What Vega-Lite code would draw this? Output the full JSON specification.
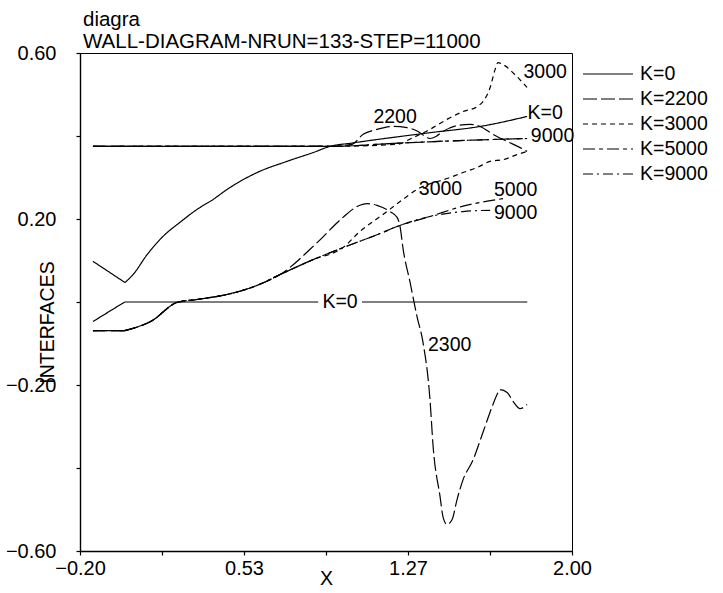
{
  "$schema": "https://vega.github.io/schema/vega-lite/v6.json",
  "width": 492,
  "height": 498,
  "autosize": {"type": "none"},
  "padding": {"left": 80, "top": 53, "right": 151, "bottom": 42},
  "background": "white",
  "config": {
    "view": {"stroke": "black", "strokeWidth": 1},
    "font": "Liberation Sans",
    "axis": {
      "domainColor": "black", "domainWidth": 1.4, "tickColor": "black", "tickSize": 4, "tickWidth": 1.2,
      "labelColor": "black", "labelFont": "Liberation Sans", "labelFontSize": 20,
      "titleColor": "black", "titleFont": "Liberation Sans", "titleFontSize": 19.5, "titleFontWeight": "normal",
      "grid": false
    }
  },
  "title": {
    "text": ["diagra", "WALL-DIAGRAM-NRUN=133-STEP=11000"],
    "anchor": "start", "frame": "group", "font": "Liberation Sans", "fontSize": 20.5,
    "fontWeight": "normal", "color": "black", "lineHeight": 22, "offset": -9, "dx": 3
  },
  "datasets": {
    "curves": [
      {"c": "k0_low_s", "K": "K=0", "i": 0, "x": -0.142, "y": -0.047},
      {"c": "k0_low_s", "K": "K=0", "i": 1, "x": 0.0, "y": 0.0},
      {"c": "k0_low_a", "K": "K=0", "i": 0, "x": 0.0, "y": 0.0},
      {"c": "k0_low_a", "K": "K=0", "i": 1, "x": 0.865, "y": 0.0},
      {"c": "k0_low_b", "K": "K=0", "i": 0, "x": 1.061, "y": 0.0},
      {"c": "k0_low_b", "K": "K=0", "i": 1, "x": 1.8, "y": 0.0},
      {"c": "k0_flat", "K": "K=0", "i": 0, "x": -0.142, "y": 0.375},
      {"c": "k0_flat", "K": "K=0", "i": 1, "x": 0.95, "y": 0.375},
      {"c": "k0_up_s", "K": "K=0", "i": 0, "x": -0.142, "y": 0.098},
      {"c": "k0_up_s", "K": "K=0", "i": 1, "x": 0.001, "y": 0.047},
      {"c": "k0_up", "K": "K=0", "i": 1, "x": 0.001, "y": 0.047},
      {"c": "k0_up", "K": "K=0", "i": 2, "x": 0.037, "y": 0.066},
      {"c": "k0_up", "K": "K=0", "i": 3, "x": 0.1, "y": 0.114},
      {"c": "k0_up", "K": "K=0", "i": 4, "x": 0.171, "y": 0.158},
      {"c": "k0_up", "K": "K=0", "i": 5, "x": 0.247, "y": 0.192},
      {"c": "k0_up", "K": "K=0", "i": 6, "x": 0.323, "y": 0.223},
      {"c": "k0_up", "K": "K=0", "i": 7, "x": 0.395, "y": 0.247},
      {"c": "k0_up", "K": "K=0", "i": 8, "x": 0.457, "y": 0.271},
      {"c": "k0_up", "K": "K=0", "i": 9, "x": 0.592, "y": 0.312},
      {"c": "k0_up", "K": "K=0", "i": 10, "x": 0.726, "y": 0.339},
      {"c": "k0_up", "K": "K=0", "i": 11, "x": 0.842, "y": 0.36},
      {"c": "k0_up", "K": "K=0", "i": 12, "x": 0.918, "y": 0.375},
      {"c": "k0_up", "K": "K=0", "i": 13, "x": 1.016, "y": 0.383},
      {"c": "k0_up", "K": "K=0", "i": 14, "x": 1.365, "y": 0.408},
      {"c": "k0_up", "K": "K=0", "i": 15, "x": 1.589, "y": 0.423},
      {"c": "k0_up", "K": "K=0", "i": 16, "x": 1.799, "y": 0.447},

      {"c": "k2200_up", "K": "K=2200", "i": 0, "x": -0.142, "y": 0.375},
      {"c": "k2200_up", "K": "K=2200", "i": 1, "x": 0.918, "y": 0.375},
      {"c": "k2200_up", "K": "K=2200", "i": 2, "x": 1.016, "y": 0.38},
      {"c": "k2200_up", "K": "K=2200", "i": 3, "x": 1.066, "y": 0.404},
      {"c": "k2200_up", "K": "K=2200", "i": 4, "x": 1.128, "y": 0.416},
      {"c": "k2200_up", "K": "K=2200", "i": 5, "x": 1.2, "y": 0.423},
      {"c": "k2200_up", "K": "K=2200", "i": 6, "x": 1.262, "y": 0.42},
      {"c": "k2200_up", "K": "K=2200", "i": 7, "x": 1.312, "y": 0.411},
      {"c": "k2200_up", "K": "K=2200", "i": 8, "x": 1.343, "y": 0.399},
      {"c": "k2200_up", "K": "K=2200", "i": 9, "x": 1.365, "y": 0.394},
      {"c": "k2200_up", "K": "K=2200", "i": 10, "x": 1.392, "y": 0.399},
      {"c": "k2200_up", "K": "K=2200", "i": 11, "x": 1.423, "y": 0.411},
      {"c": "k2200_up", "K": "K=2200", "i": 12, "x": 1.486, "y": 0.425},
      {"c": "k2200_up", "K": "K=2200", "i": 13, "x": 1.544, "y": 0.428},
      {"c": "k2200_up", "K": "K=2200", "i": 14, "x": 1.589, "y": 0.423},
      {"c": "k2200_up", "K": "K=2200", "i": 15, "x": 1.647, "y": 0.404},
      {"c": "k2200_up", "K": "K=2200", "i": 16, "x": 1.71, "y": 0.387},
      {"c": "k2200_up", "K": "K=2200", "i": 17, "x": 1.768, "y": 0.372},
      {"c": "k2200_up", "K": "K=2200", "i": 18, "x": 1.799, "y": 0.363},

      {"c": "k2200_low_s", "K": "K=2200", "i": 0, "x": -0.142, "y": -0.069},
      {"c": "k2200_low_s", "K": "K=2200", "i": 1, "x": 0.0, "y": -0.069},
      {"c": "k2200_low", "K": "K=2200", "i": 1, "x": 0.0, "y": -0.069},
      {"c": "k2200_low", "K": "K=2200", "i": 2, "x": 0.122, "y": -0.045},
      {"c": "k2200_low", "K": "K=2200", "i": 3, "x": 0.234, "y": -0.001},
      {"c": "k2200_low", "K": "K=2200", "i": 4, "x": 0.323, "y": 0.006},
      {"c": "k2200_low", "K": "K=2200", "i": 5, "x": 0.457, "y": 0.018},
      {"c": "k2200_low", "K": "K=2200", "i": 6, "x": 0.592, "y": 0.04},
      {"c": "k2200_low", "K": "K=2200", "i": 7, "x": 0.694, "y": 0.066},
      {"c": "k2200_low", "K": "K=2200", "i": 8, "x": 0.86, "y": 0.143},
      {"c": "k2200_low", "K": "K=2200", "i": 9, "x": 0.976, "y": 0.204},
      {"c": "k2200_low", "K": "K=2200", "i": 10, "x": 1.039, "y": 0.23},
      {"c": "k2200_low", "K": "K=2200", "i": 11, "x": 1.084, "y": 0.237},
      {"c": "k2200_low", "K": "K=2200", "i": 12, "x": 1.128, "y": 0.233},
      {"c": "k2200_low", "K": "K=2200", "i": 13, "x": 1.186, "y": 0.218},
      {"c": "k2200_low", "K": "K=2200", "i": 14, "x": 1.218, "y": 0.204},
      {"c": "k2200_low", "K": "K=2200", "i": 15, "x": 1.231, "y": 0.182},
      {"c": "k2200_low", "K": "K=2200", "i": 16, "x": 1.245, "y": 0.127},
      {"c": "k2200_low", "K": "K=2200", "i": 17, "x": 1.276, "y": 0.047},
      {"c": "k2200_low", "K": "K=2200", "i": 18, "x": 1.307, "y": -0.035},
      {"c": "k2200_low", "K": "K=2200", "i": 19, "x": 1.334, "y": -0.098},
      {"c": "k2200_low", "K": "K=2200", "i": 20, "x": 1.365, "y": -0.235},
      {"c": "k2200_low", "K": "K=2200", "i": 21, "x": 1.379, "y": -0.348},
      {"c": "k2200_low", "K": "K=2200", "i": 22, "x": 1.41, "y": -0.469},
      {"c": "k2200_low", "K": "K=2200", "i": 23, "x": 1.423, "y": -0.517},
      {"c": "k2200_low", "K": "K=2200", "i": 24, "x": 1.441, "y": -0.536},
      {"c": "k2200_low", "K": "K=2200", "i": 25, "x": 1.464, "y": -0.524},
      {"c": "k2200_low", "K": "K=2200", "i": 26, "x": 1.486, "y": -0.476},
      {"c": "k2200_low", "K": "K=2200", "i": 27, "x": 1.513, "y": -0.428},
      {"c": "k2200_low", "K": "K=2200", "i": 28, "x": 1.558, "y": -0.38},
      {"c": "k2200_low", "K": "K=2200", "i": 29, "x": 1.602, "y": -0.314},
      {"c": "k2200_low", "K": "K=2200", "i": 30, "x": 1.643, "y": -0.252},
      {"c": "k2200_low", "K": "K=2200", "i": 31, "x": 1.665, "y": -0.223},
      {"c": "k2200_low", "K": "K=2200", "i": 32, "x": 1.678, "y": -0.211},
      {"c": "k2200_low", "K": "K=2200", "i": 33, "x": 1.71, "y": -0.218},
      {"c": "k2200_low", "K": "K=2200", "i": 34, "x": 1.737, "y": -0.24},
      {"c": "k2200_low", "K": "K=2200", "i": 35, "x": 1.768, "y": -0.257},
      {"c": "k2200_low", "K": "K=2200", "i": 36, "x": 1.799, "y": -0.247},

      {"c": "k3000_up", "K": "K=3000", "i": 0, "x": -0.142, "y": 0.375},
      {"c": "k3000_up", "K": "K=3000", "i": 1, "x": 0.918, "y": 0.375},
      {"c": "k3000_up", "K": "K=3000", "i": 2, "x": 1.218, "y": 0.38},
      {"c": "k3000_up", "K": "K=3000", "i": 3, "x": 1.289, "y": 0.396},
      {"c": "k3000_up", "K": "K=3000", "i": 4, "x": 1.365, "y": 0.416},
      {"c": "k3000_up", "K": "K=3000", "i": 5, "x": 1.441, "y": 0.44},
      {"c": "k3000_up", "K": "K=3000", "i": 6, "x": 1.513, "y": 0.459},
      {"c": "k3000_up", "K": "K=3000", "i": 7, "x": 1.576, "y": 0.471},
      {"c": "k3000_up", "K": "K=3000", "i": 8, "x": 1.602, "y": 0.483},
      {"c": "k3000_up", "K": "K=3000", "i": 9, "x": 1.634, "y": 0.517},
      {"c": "k3000_up", "K": "K=3000", "i": 10, "x": 1.656, "y": 0.56},
      {"c": "k3000_up", "K": "K=3000", "i": 11, "x": 1.669, "y": 0.577},
      {"c": "k3000_up", "K": "K=3000", "i": 12, "x": 1.692, "y": 0.572},
      {"c": "k3000_up", "K": "K=3000", "i": 13, "x": 1.754, "y": 0.543},
      {"c": "k3000_up", "K": "K=3000", "i": 14, "x": 1.799, "y": 0.517},

      {"c": "k3000_low_s", "K": "K=3000", "i": 0, "x": -0.142, "y": -0.069},
      {"c": "k3000_low_s", "K": "K=3000", "i": 1, "x": 0.0, "y": -0.069},
      {"c": "k3000_low", "K": "K=3000", "i": 1, "x": 0.0, "y": -0.069},
      {"c": "k3000_low", "K": "K=3000", "i": 2, "x": 0.122, "y": -0.045},
      {"c": "k3000_low", "K": "K=3000", "i": 3, "x": 0.234, "y": -0.001},
      {"c": "k3000_low", "K": "K=3000", "i": 4, "x": 0.323, "y": 0.006},
      {"c": "k3000_low", "K": "K=3000", "i": 5, "x": 0.457, "y": 0.018},
      {"c": "k3000_low", "K": "K=3000", "i": 6, "x": 0.592, "y": 0.04},
      {"c": "k3000_low", "K": "K=3000", "i": 7, "x": 0.694, "y": 0.066},
      {"c": "k3000_low", "K": "K=3000", "i": 8, "x": 0.842, "y": 0.102},
      {"c": "k3000_low", "K": "K=3000", "i": 9, "x": 0.976, "y": 0.131},
      {"c": "k3000_low", "K": "K=3000", "i": 10, "x": 1.052, "y": 0.17},
      {"c": "k3000_low", "K": "K=3000", "i": 11, "x": 1.155, "y": 0.211},
      {"c": "k3000_low", "K": "K=3000", "i": 12, "x": 1.231, "y": 0.242},
      {"c": "k3000_low", "K": "K=3000", "i": 13, "x": 1.307, "y": 0.271},
      {"c": "k3000_low", "K": "K=3000", "i": 14, "x": 1.455, "y": 0.3},
      {"c": "k3000_low", "K": "K=3000", "i": 15, "x": 1.513, "y": 0.312},
      {"c": "k3000_low", "K": "K=3000", "i": 16, "x": 1.576, "y": 0.324},
      {"c": "k3000_low", "K": "K=3000", "i": 17, "x": 1.634, "y": 0.339},
      {"c": "k3000_low", "K": "K=3000", "i": 18, "x": 1.692, "y": 0.343},
      {"c": "k3000_low", "K": "K=3000", "i": 19, "x": 1.754, "y": 0.355},
      {"c": "k3000_low", "K": "K=3000", "i": 20, "x": 1.799, "y": 0.363},

      {"c": "k5000_up", "K": "K=5000", "i": 0, "x": -0.142, "y": 0.375},
      {"c": "k5000_up", "K": "K=5000", "i": 1, "x": 0.918, "y": 0.375},
      {"c": "k5000_up", "K": "K=5000", "i": 2, "x": 1.231, "y": 0.383},
      {"c": "k5000_up", "K": "K=5000", "i": 3, "x": 1.499, "y": 0.389},
      {"c": "k5000_up", "K": "K=5000", "i": 4, "x": 1.799, "y": 0.394},

      {"c": "k5000_low_s", "K": "K=5000", "i": 0, "x": -0.142, "y": -0.069},
      {"c": "k5000_low_s", "K": "K=5000", "i": 1, "x": 0.0, "y": -0.069},
      {"c": "k5000_low", "K": "K=5000", "i": 1, "x": 0.0, "y": -0.069},
      {"c": "k5000_low", "K": "K=5000", "i": 2, "x": 0.122, "y": -0.045},
      {"c": "k5000_low", "K": "K=5000", "i": 3, "x": 0.234, "y": -0.001},
      {"c": "k5000_low", "K": "K=5000", "i": 4, "x": 0.323, "y": 0.006},
      {"c": "k5000_low", "K": "K=5000", "i": 5, "x": 0.457, "y": 0.018},
      {"c": "k5000_low", "K": "K=5000", "i": 6, "x": 0.592, "y": 0.04},
      {"c": "k5000_low", "K": "K=5000", "i": 7, "x": 0.694, "y": 0.066},
      {"c": "k5000_low", "K": "K=5000", "i": 8, "x": 0.842, "y": 0.102},
      {"c": "k5000_low", "K": "K=5000", "i": 9, "x": 0.976, "y": 0.131},
      {"c": "k5000_low", "K": "K=5000", "i": 10, "x": 1.142, "y": 0.165},
      {"c": "k5000_low", "K": "K=5000", "i": 11, "x": 1.218, "y": 0.182},
      {"c": "k5000_low", "K": "K=5000", "i": 12, "x": 1.365, "y": 0.206},
      {"c": "k5000_low", "K": "K=5000", "i": 13, "x": 1.513, "y": 0.231},
      {"c": "k5000_low", "K": "K=5000", "i": 14, "x": 1.589, "y": 0.24},
      {"c": "k5000_low", "K": "K=5000", "i": 15, "x": 1.692, "y": 0.249},

      {"c": "k9000_up", "K": "K=9000", "i": 0, "x": -0.142, "y": 0.375},
      {"c": "k9000_up", "K": "K=9000", "i": 1, "x": 0.918, "y": 0.375},
      {"c": "k9000_up", "K": "K=9000", "i": 2, "x": 1.231, "y": 0.383},
      {"c": "k9000_up", "K": "K=9000", "i": 3, "x": 1.499, "y": 0.389},
      {"c": "k9000_up", "K": "K=9000", "i": 4, "x": 1.799, "y": 0.394},

      {"c": "k9000_low_s", "K": "K=9000", "i": 0, "x": -0.142, "y": -0.069},
      {"c": "k9000_low_s", "K": "K=9000", "i": 1, "x": 0.0, "y": -0.069},
      {"c": "k9000_low", "K": "K=9000", "i": 1, "x": 0.0, "y": -0.069},
      {"c": "k9000_low", "K": "K=9000", "i": 2, "x": 0.122, "y": -0.045},
      {"c": "k9000_low", "K": "K=9000", "i": 3, "x": 0.234, "y": -0.001},
      {"c": "k9000_low", "K": "K=9000", "i": 4, "x": 0.323, "y": 0.006},
      {"c": "k9000_low", "K": "K=9000", "i": 5, "x": 0.457, "y": 0.018},
      {"c": "k9000_low", "K": "K=9000", "i": 6, "x": 0.592, "y": 0.04},
      {"c": "k9000_low", "K": "K=9000", "i": 7, "x": 0.694, "y": 0.066},
      {"c": "k9000_low", "K": "K=9000", "i": 8, "x": 0.842, "y": 0.102},
      {"c": "k9000_low", "K": "K=9000", "i": 9, "x": 0.976, "y": 0.131},
      {"c": "k9000_low", "K": "K=9000", "i": 10, "x": 1.142, "y": 0.165},
      {"c": "k9000_low", "K": "K=9000", "i": 11, "x": 1.218, "y": 0.182},
      {"c": "k9000_low", "K": "K=9000", "i": 12, "x": 1.365, "y": 0.206},
      {"c": "k9000_low", "K": "K=9000", "i": 13, "x": 1.513, "y": 0.218},
      {"c": "k9000_low", "K": "K=9000", "i": 14, "x": 1.634, "y": 0.221}
    ],
    "labels": [
      {"t": "K=0", "x": 0.963, "y": -0.001},
      {"t": "K=0", "x": 1.88, "y": 0.455},
      {"t": "9000", "x": 1.913, "y": 0.4},
      {"t": "3000", "x": 1.88, "y": 0.554},
      {"t": "2200", "x": 1.209, "y": 0.446},
      {"t": "3000", "x": 1.412, "y": 0.272},
      {"t": "5000", "x": 1.748, "y": 0.27},
      {"t": "9000", "x": 1.748, "y": 0.214},
      {"t": "2300", "x": 1.453, "y": -0.104}
    ]
  },
  "layer": [
    {
      "data": {"name": "curves"},
      "mark": {"type": "line", "strokeWidth": 1.2, "color": "black", "interpolate": "monotone"},
      "encoding": {
        "x": {
          "field": "x", "type": "quantitative",
          "scale": {"domain": [-0.2, 2.0], "nice": false, "zero": false},
          "axis": {
            "title": "X", "values": [-0.2, 0.16667, 0.53333, 0.9, 1.26667, 1.63333, 2.0],
            "labelExpr": "(datum.value < -0.1 || abs(datum.value - 0.53333) < 0.01 || abs(datum.value - 1.26667) < 0.01 || datum.value > 1.9) ? format(datum.value, '.2f') : ''",
            "labelPadding": 3, "labelFlush": false, "labelOverlap": false,
            "titleY": 33, "titleBaseline": "alphabetic"
          }
        },
        "y": {
          "field": "y", "type": "quantitative",
          "scale": {"domain": [-0.6, 0.6], "nice": false, "zero": false},
          "axis": {
            "title": "INTERFACES", "values": [-0.6, -0.4, -0.2, 0, 0.2, 0.4, 0.6],
            "labelExpr": "(abs(datum.value) > 0.5 || abs(abs(datum.value) - 0.2) < 0.01) ? format(datum.value, '.2f') : ''",
            "labelPadding": 20, "labelFlush": false, "labelOverlap": false,
            "titleX": -33, "titleY": 269, "titleAlign": "center", "titleBaseline": "middle", "titleAngle": -90
          }
        },
        "detail": {"field": "c"},
        "order": {"field": "i", "type": "quantitative"},
        "strokeDash": {
          "field": "K", "type": "nominal",
          "scale": {
            "domain": ["K=0", "K=2200", "K=3000", "K=5000", "K=9000"],
            "range": [[1, 0], [14, 4], [5, 4], [12, 4, 4, 4], [10, 4, 2, 4]]
          },
          "legend": {
            "title": null, "orient": "none", "legendX": 514.5, "legendY": 7.5,
            "symbolType": "M-2,0H2", "symbolSize": 625, "symbolStrokeWidth": 1.2, "symbolStrokeColor": "black",
            "symbolFillColor": "transparent",
            "labelFontSize": 19.5, "labelFont": "Liberation Sans", "labelColor": "black",
            "labelOffset": 18.5, "rowPadding": 2, "padding": 0, "labelLimit": 200
          }
        }
      }
    },
    {
      "data": {"name": "labels"},
      "mark": {"type": "text", "font": "Liberation Sans", "fontSize": 19.5, "color": "black", "align": "center", "baseline": "middle"},
      "encoding": {
        "x": {"field": "x", "type": "quantitative"},
        "y": {"field": "y", "type": "quantitative"},
        "text": {"field": "t"}
      }
    }
  ]
}
